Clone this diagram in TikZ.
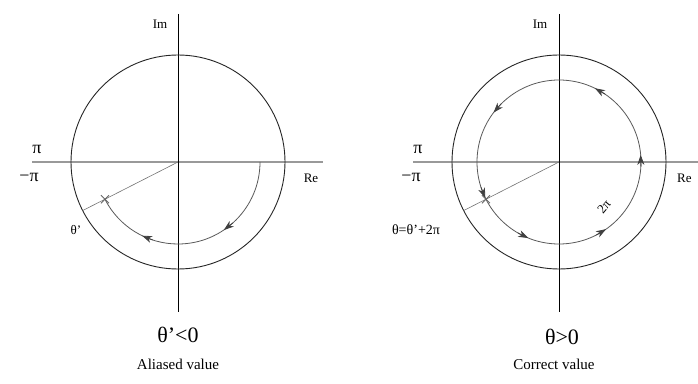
\documentclass[tikz,border=0pt]{standalone}
\usepackage{fontspec}
\setmainfont{Liberation Serif}
\usetikzlibrary{arrows.meta,calc}
\begin{document}
\begin{tikzpicture}[x=1pt,y=1pt,
  outer/.style={line width=0.9pt,black!85},
  axis/.style={line width=0.9pt,black},
  reaxis/.style={line width=2pt,black!40},
  radius/.style={line width=0.6pt,black!55},
  inner/.style={line width=0.8pt,black!65},
  cross/.style={line width=0.9pt,black!60},
  tipped/.style={line width=0.8pt,black!75,-{Stealth[length=10pt,width=7pt,inset=3pt]}},
  lbl/.style={font=\fontsize{13}{15}\selectfont,inner sep=0pt},
  pilbl/.style={font=\fontsize{18}{20}\selectfont,inner sep=0pt},
  big/.style={font=\fontsize{22}{24}\selectfont,inner sep=0pt},
  captiontext/.style={font=\fontsize{15}{17}\selectfont,inner sep=0pt}
]
\useasboundingbox (0,0) rectangle (698,383);
% ---------- left diagram ----------
\coordinate (L) at (178,221);
\coordinate (Ltop) at (178,369);
\coordinate (Lbot) at (178,71);
\coordinate (Lw) at (32,221);
\coordinate (Le) at (323,221);
\draw[reaxis] (Lw) -- (Le);
\draw[axis] (Ltop) -- (Lbot);
\draw[outer] (L) circle (107);
\coordinate (Lrim) at ($(L)+(207:107)$);
\coordinate (Lx) at ($(L)+(207:82)$);
\coordinate (Lstart) at ($(L)+(0:82)$);
\draw[radius] (L) -- (Lrim);
\draw[inner] (Lstart) arc (0:-153:82pt);
\foreach \a in {-52,-112}
  \draw[tipped] ($(L)+(\a+4:82)$) -- ($(L)+(\a-4:82)$);
\draw[cross] ($(Lx)+(-4,-4)$) -- ($(Lx)+(4,4)$) ($(Lx)+(-4,4)$) -- ($(Lx)+(4,-4)$);
\node[lbl] (Lim) at (160,359) {Im};
\node[lbl] (Lre) at (311,205) {Re};
\node[pilbl] (Lpi) at (37,234) {π};
\node[pilbl] (Lmpi) at (29,206) {−π};
\node[lbl] (Lth) at (76,153) {θ'};
\node[big] (Lcond) at (178,48) {θ'<0};
\node[captiontext] (Lcap) at (178,19) {Aliased value};
% ---------- right diagram ----------
\coordinate (R) at (559,221);
\coordinate (Rtop) at (559,369);
\coordinate (Rbot) at (559,71);
\coordinate (Rw) at (413,221);
\coordinate (Re) at (698,221);
\draw[reaxis] (Rw) -- (Re);
\draw[axis] (Rtop) -- (Rbot);
\draw[outer] (R) circle (107);
\coordinate (Rrim) at ($(R)+(207:107)$);
\coordinate (Rx) at ($(R)+(207:82)$);
\draw[radius] (R) -- (Rrim);
\draw[inner] (R) circle (82);
\foreach \a in {60,139,202,244,301,1}
  \draw[tipped] ($(R)+(\a-4:82)$) -- ($(R)+(\a+4:82)$);
\draw[cross] ($(Rx)+(-4,-4)$) -- ($(Rx)+(4,4)$) ($(Rx)+(-4,4)$) -- ($(Rx)+(4,-4)$);
\node[lbl] (Rim) at (540,359) {Im};
\node[lbl,anchor=west] (Rre) at (677,205) {Re};
\node[pilbl] (Rpi) at (418,234) {π};
\node[pilbl] (Rmpi) at (411,206) {−π};
\node[lbl,font=\fontsize{14}{16}\selectfont] (Rth) at (416,153) {θ=θ'+2π};
\node[lbl,rotate=50] (R2pi) at (604,176) {2π};
\node[big] (Rcond) at (562,46) {θ>0};
\node[captiontext] (Rcap) at (554,19) {Correct value};
\end{tikzpicture}
\end{document}
